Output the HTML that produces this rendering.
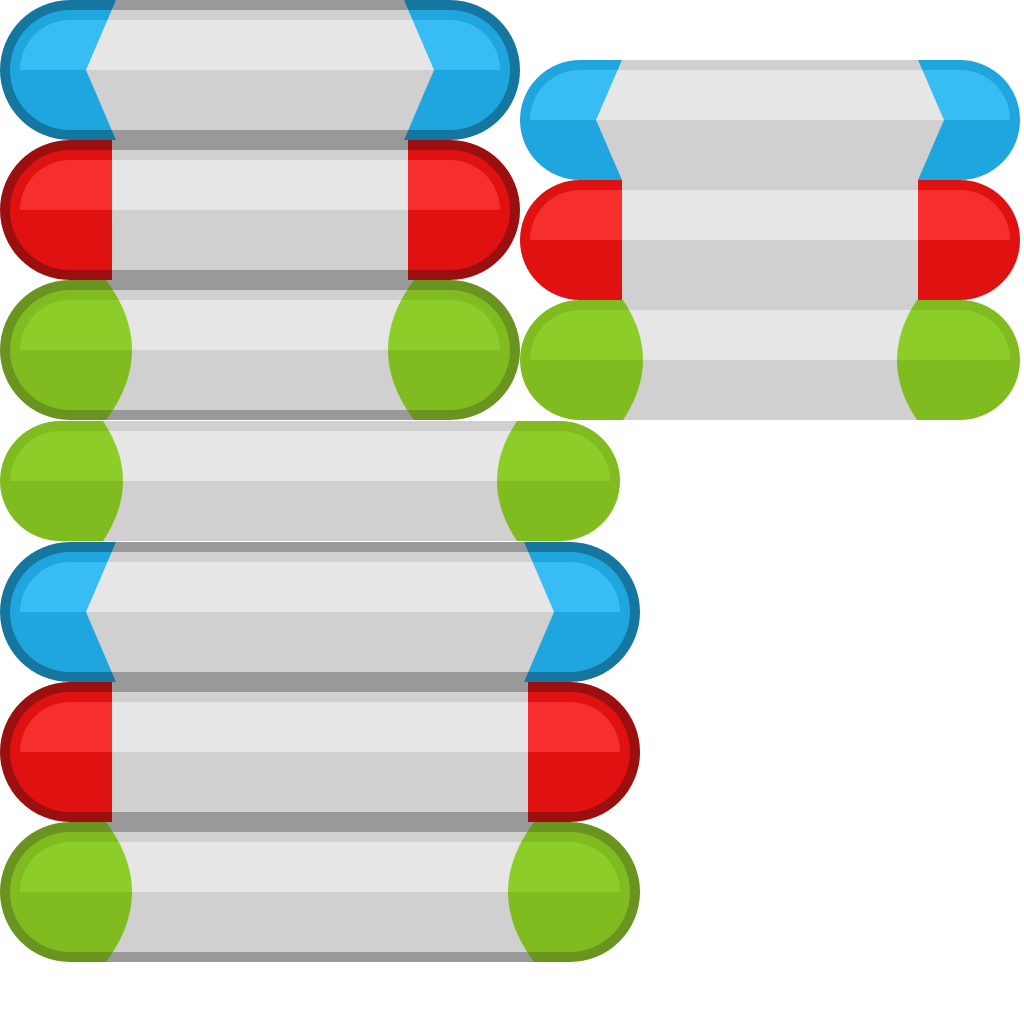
<!DOCTYPE html>
<html><head><meta charset="utf-8"><style>
html,body{margin:0;padding:0;background:#fff;}
svg{display:block;}
</style></head><body>
<svg id="sheet" width="1024" height="1024" viewBox="0 0 1024 1024" xmlns="http://www.w3.org/2000/svg"></svg>
<script>
// sprite definitions
const kinds = ["blue","red","green","blue","red","green","green","blue","red","green"];
const xs = [0,0,0,520,520,520,0,0,0,0];
const ys = [0,140,280,60,180,300,421,542,682,822];
const ws = [520,520,520,500,500,500,620,640,640,640];
const hs = [140,140,140,120,120,120,120,140,140,140];
const bordered = [1,1,1,0,0,0,0,1,1,1];
const colors = {
  blue:{b:"#1577a0",m:"#1fa6de",h:"#38bcf4"},
  red:{b:"#9b0f0f",m:"#df1111",h:"#f72e2e"},
  green:{b:"#6a9420",m:"#80bb20",h:"#8ccd2a"}
};
const NS="http://www.w3.org/2000/svg";
const svg=document.getElementById('sheet');
const defs=document.createElementNS(NS,'defs');svg.appendChild(defs);
function mk(tag,attrs,parent){const e=document.createElementNS(NS,tag);for(const k in attrs)e.setAttribute(k,attrs[k]);(parent||svg).appendChild(e);return e;}
for(let i=0;i<kinds.length;i++){
  const x=xs[i],y=ys[i],w=ws[i],h=hs[i],bd=bordered[i],c=colors[kinds[i]],k=kinds[i];
  const g=mk('g',{});
  
  
  const r=h/2, mid=y+r;
  // base pill
  if(bd){
    mk('rect',{x:x,y:y,width:w,height:h,rx:r,fill:c.b},g);
    mk('rect',{x:x+10,y:y+10,width:w-20,height:h-20,rx:r-10,fill:c.m},g);
    const cid='hc'+i;const cp=mk('clipPath',{id:cid},defs);mk('rect',{x:x,y:y,width:w,height:r},cp);
    mk('rect',{x:x+20,y:y+20,width:w-40,height:h-40,rx:r-20,fill:c.h,'clip-path':'url(#'+cid+')'},g);
  } else {
    mk('rect',{x:x,y:y,width:w,height:h,rx:r,fill:c.m},g);
    const cid='hc'+i;const cp=mk('clipPath',{id:cid},defs);mk('rect',{x:x,y:y,width:w,height:r},cp);
    mk('rect',{x:x+10,y:y+10,width:w-20,height:h-20,rx:r-10,fill:c.h,'clip-path':'url(#'+cid+')'},g);
  }
  // gray middle shape
  let d;
  const L=x+(bd?(k==='red'?112:k==='blue'?116:106):(k==='green'&&w===620?104:(k==='green'?102:102)));
  let l,rr;
  if(bd){
    if(k==='blue'){l=x+116;rr=x+w-116;d=`M${l},${y}L${rr},${y}L${rr+30},${mid}L${rr},${y+h}L${l},${y+h}L${l-30},${mid}Z`;}
    else if(k==='red'){l=x+112;rr=x+w-112;d=`M${l},${y}L${rr},${y}L${rr},${y+h}L${l},${y+h}Z`;}
    else {l=x+106;rr=x+w-106;d=`M${l},${y}L${rr},${y}Q${rr-52},${mid} ${rr},${y+h}L${l},${y+h}Q${l+52},${mid} ${l},${y}Z`;}
  } else {
    if(k==='blue'){l=x+102;rr=x+w-102;d=`M${l},${y}L${rr},${y}L${rr+26},${mid}L${rr},${y+h}L${l},${y+h}L${l-26},${mid}Z`;}
    else if(k==='red'){l=x+102;rr=x+w-102;d=`M${l},${y}L${rr},${y}L${rr},${y+h}L${l},${y+h}Z`;}
    else {l=x+103;rr=x+w-103;d=`M${l},${y}L${rr},${y}Q${rr-40},${mid} ${rr},${y+h}L${l},${y+h}Q${l+40},${mid} ${l},${y}Z`;}
  }
  const gid='gc'+i;const gp=mk('clipPath',{id:gid},defs);mk('path',{d:d},gp);
  const mg=mk('g',{'clip-path':'url(#'+gid+')'},g);
  if(bd){
    mk('rect',{x:x,y:y,width:w,height:10,fill:'#999999'},mg);
    mk('rect',{x:x,y:y+10,width:w,height:10,fill:'#d0d0d0'},mg);
    mk('rect',{x:x,y:y+20,width:w,height:50,fill:'#e6e6e6'},mg);
    mk('rect',{x:x,y:mid,width:w,height:60,fill:'#d0d0d0'},mg);
    mk('rect',{x:x,y:y+h-10,width:w,height:10,fill:'#999999'},mg);
  } else {
    mk('rect',{x:x,y:y,width:w,height:10,fill:'#d0d0d0'},mg);
    mk('rect',{x:x,y:y+10,width:w,height:50,fill:'#e6e6e6'},mg);
    mk('rect',{x:x,y:mid,width:w,height:60,fill:'#d0d0d0'},mg);
  }
}
</script>
</body></html>
